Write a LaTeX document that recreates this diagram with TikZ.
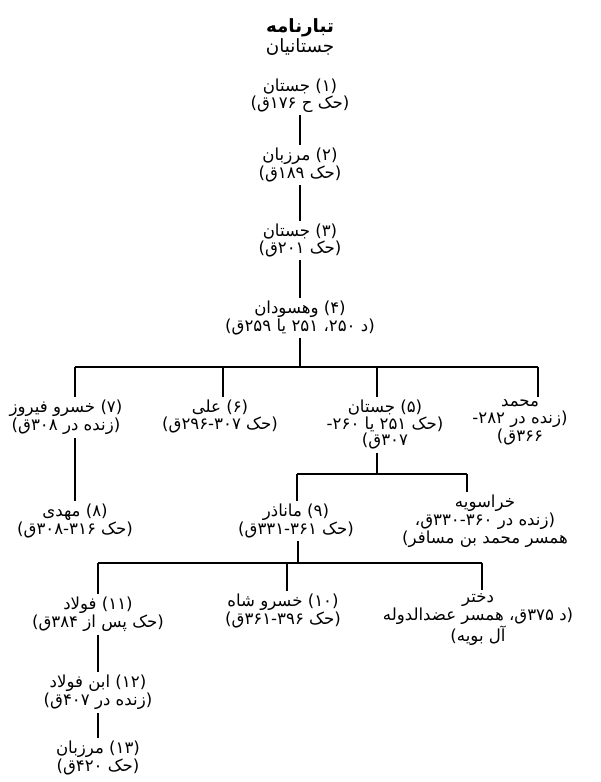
\documentclass[tikz,border=0pt]{standalone}
\usepackage{fontspec}
\newfontfamily\arabicfont[Script=Arabic]{DejaVu Sans}
\TeXXeTstate=1
\usetikzlibrary{positioning}
\newcommand{\rl}[1]{\beginR#1\endR}
\tikzset{
	person/.style={align=center, anchor=north, inner sep=2pt,
		font=\arabicfont\fontsize{11.8}{11.8}\selectfont},
	link/.style={line width=1.6pt}
}

\begin{document}
\begin{tikzpicture}[x=0.025cm,y=-0.025cm]
	\useasboundingbox (0,0) rectangle (600,782);
	% title
	\node[person, font=\arabicfont\fontsize{13}{12.5}\selectfont] (title) at (300,16) {
	{\bfseries\rl{تبارنامه}}\\\rl{جستانیان}
	};
	% main line
	\node[person] (n1) at (300,76) {\rl{(۱) جستان}\\\rl{(حک ح ۱۷۶ق)}};
	\node[person] (n2) at (300,145) {\rl{(۲) مرزبان}\\\rl{(حک ۱۸۹ق)}};
	\node[person] (n3) at (300,221) {\rl{(۳) جستان}\\\rl{(حک ۲۰۱ق)}};
	\node[person] (n4) at (300,298) {\rl{(۴) وهسودان}\\\rl{(د ۲۵۰، ۲۵۱ یا ۲۵۹ق)}};
	% sons of n4
	\node[person] (n7) at (66,397) {\rl{(۷) خسرو فیروز}\\\rl{(زنده در ۳۰۸ق)}};
	\node[person] (n6) at (220,397) {\rl{(۶) علی}\\\rl{(حک ۲۹۶-۳۰۷ق)}};
	\node[person] (n5) at (385,397) {\rl{(۵) جستان}\\\rl{(حک ۲۵۱ یا ۲۶۰-}\\\rl{۳۰۷ق)}};
	\node[person] (mhd) at (520,397) {\rl{محمد}\\\rl{(زنده در ۲۸۲-}\\\rl{۳۶۶ق)}};
	% third row
	\node[person] (n8) at (75,501) {\rl{(۸) مهدی}\\\rl{(حک ۳۰۸-۳۱۶ق)}};
	\node[person] (n9) at (296,501) {\rl{(۹) ماناذر}\\\rl{(حک ۳۳۱-۳۶۱ق)}};
	\node[person] (khr) at (485,492) {\rl{خراسویه}\\\rl{(زنده در ۳۳۰-۳۶۰ق،}\\\rl{همسر محمد بن مسافر)}};
	% fourth row
	\node[person] (n11) at (98,594) {\rl{(۱۱) فولاد}\\\rl{(حک پس از ۳۸۴ق)}};
	\node[person] (n10) at (283,591) {\rl{(۱۰) خسرو شاه}\\\rl{(حک ۳۶۱-۳۹۶ق)}};
	\node[person] (dau) at (478,590) {\rl{دختر}\\\rl{(د ۳۷۵ق، همسر عضدالدوله}\\\rl{آل بویه)}};
	% last ones
	\node[person] (n12) at (98,672) {\rl{(۱۲) ابن فولاد}\\\rl{(زنده در ۴۰۷ق)}};
	\node[person] (n13) at (98,738) {\rl{(۱۳) مرزبان}\\\rl{(حک ۴۲۰ق)}};
	% junctions
	\coordinate (j4) at (300,367);
	\coordinate (b7) at (75,367);
	\coordinate (b6) at (223,367);
	\coordinate (b5) at (377,367);
	\coordinate (bm) at (538,367);
	\coordinate (j5) at (377,474);
	\coordinate (b9) at (297,474);
	\coordinate (bk) at (467,474);
	\coordinate (j9) at (298,563);
	\coordinate (b11) at (98,563);
	\coordinate (b10) at (287,563);
	\coordinate (bd) at (482,563);
	% Lines
	\draw[link] (n1) -- (n2);
	\draw[link] (n2) -- (n3);
	\draw[link] (n3) -- (n4);
	\draw[link] (n4) -- (j4);
	\draw[link] (b7) -- (bm);
	\draw[link] (b7) -- (b7 |- n7.north);
	\draw[link] (b6) -- (b6 |- n6.north);
	\draw[link] (b5) -- (b5 |- n5.north);
	\draw[link] (bm) -- (bm |- mhd.north);
	\draw[link] (n7.south -| b7) -- (n8.north -| b7);
	\draw[link] (n5.south -| j5) -- (j5);
	\draw[link] (b9) -- (bk);
	\draw[link] (b9) -- (b9 |- n9.north);
	\draw[link] (bk) -- (bk |- khr.north);
	\draw[link] (n9.south -| j9) -- (j9);
	\draw[link] (b11) -- (bd);
	\draw[link] (b11) -- (b11 |- n11.north);
	\draw[link] (b10) -- (b10 |- n10.north);
	\draw[link] (bd) -- (bd |- dau.north);
	\draw[link] (n11) -- (n12);
	\draw[link] (n12) -- (n13);
\end{tikzpicture}
\end{document}
